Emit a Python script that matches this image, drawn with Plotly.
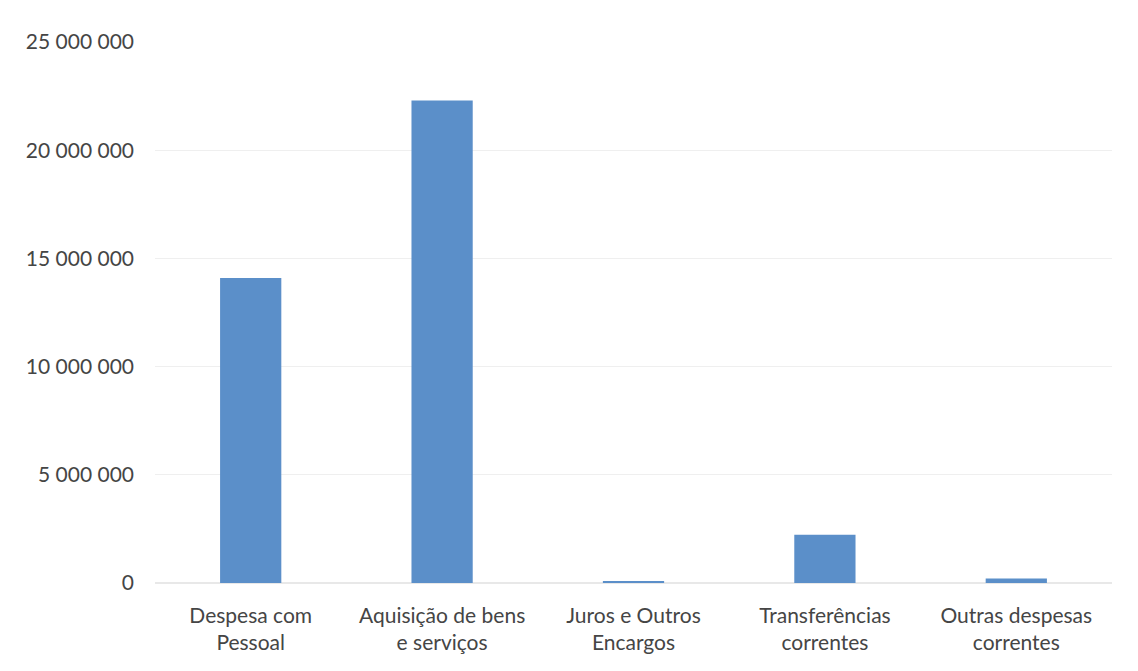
import plotly.graph_objects as go

categories = ["Despesa com<br>Pessoal", "Aquisição de bens<br>e serviços", "Juros e Outros<br>Encargos",
              "Transferências<br>correntes", "Outras despesas<br>correntes"]
values = [14100000, 22300000, 80000, 2230000, 210000]
tick_vals = [0, 5000000, 10000000, 15000000, 20000000, 25000000]

fig = go.Figure(go.Bar(x=categories, y=values, marker=dict(color="#5B8FC9", line=dict(width=0))))

fig.update_layout(
    width=1138, height=663,
    margin=dict(l=147, r=34, t=34, b=88),
    paper_bgcolor="white", plot_bgcolor="white",
    separators=", ",
    bargap=0.68,
    font=dict(family="Lato, 'Open Sans', sans-serif", size=21, color="#454545"),
    showlegend=False,
    xaxis=dict(showgrid=False, showline=False, ticks="", tickfont=dict(size=21)),
    yaxis=dict(range=[0, 25000000], tickvals=tick_vals, tickformat=",d",
               showgrid=True, gridcolor="#efefef", gridwidth=1, zeroline=True,
               zerolinecolor="#e8e8e8", showline=False, ticks="", ticklen=0,
               tickfont=dict(size=21)),
)
fig.update_yaxes(ticklabelstandoff=20)
fig.update_xaxes(ticklabelstandoff=18)

fig.write_html("out.html")
